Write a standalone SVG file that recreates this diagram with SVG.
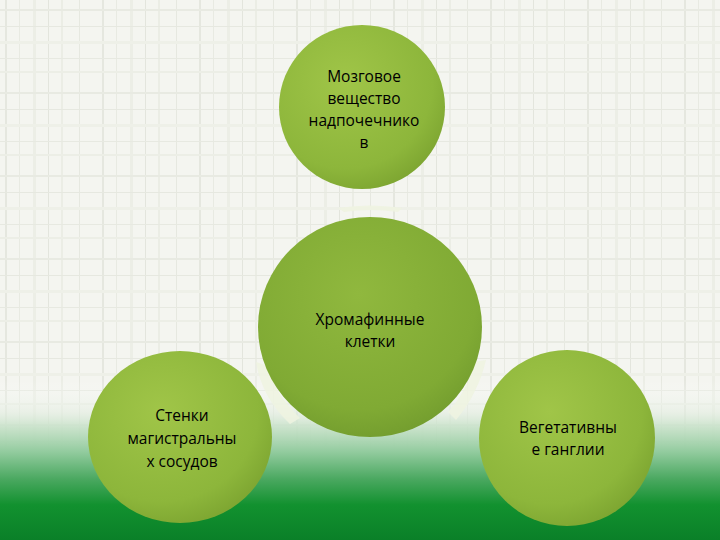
<svg xmlns="http://www.w3.org/2000/svg" width="720" height="540" viewBox="0 0 720 540">
<defs>
<style>
.t{font-family:"Open Sans","Noto Sans","Liberation Sans",sans-serif;font-size:15.5px;fill:#000;text-anchor:middle}
.arc{fill:#eef3e0;opacity:0.85}
</style>
<pattern id="plaid" width="97" height="83" patternUnits="userSpaceOnUse">
<rect width="97" height="83" fill="#f4f5f0"/>
<rect x="5" width="2" height="83" fill="#e5e7df"/>
<rect x="19" width="1" height="83" fill="#e8eae2"/>
<rect x="33" width="3" height="83" fill="#eceee6"/>
<rect x="48" width="1" height="83" fill="#e3e5dd"/>
<rect x="61" width="2" height="83" fill="#ebede5"/>
<rect x="79" width="1" height="83" fill="#e6e8e0"/>
<rect y="9" width="97" height="2" fill="#e8eae2"/>
<rect y="26" width="97" height="1" fill="#e6e8e0"/>
<rect y="41" width="97" height="3" fill="#eef0e8"/>
<rect y="58" width="97" height="1" fill="#e7e9e1"/>
<rect y="71" width="97" height="2" fill="#eceee6"/>
</pattern>
<linearGradient id="bottom" x1="0" y1="380" x2="0" y2="540" gradientUnits="userSpaceOnUse">
<stop offset="0" stop-color="#ffffff" stop-opacity="0"/>
<stop offset="0.2" stop-color="#e2ede0" stop-opacity="0.6"/>
<stop offset="0.3" stop-color="#c4e0c6" stop-opacity="0.9"/>
<stop offset="0.45" stop-color="#92cb9e"/>
<stop offset="0.62" stop-color="#4aa860"/>
<stop offset="0.78" stop-color="#12912f"/>
<stop offset="1" stop-color="#0a8028"/>
</linearGradient>
<radialGradient id="ball" cx="0.4" cy="0.35" r="0.75">
<stop offset="0" stop-color="#a0c548"/>
<stop offset="0.7" stop-color="#8db63b"/>
<stop offset="1" stop-color="#779f2d"/>
</radialGradient>
<radialGradient id="ballC" cx="0.45" cy="0.35" r="0.75">
<stop offset="0" stop-color="#90b83e"/>
<stop offset="0.7" stop-color="#80aa34"/>
<stop offset="1" stop-color="#6c962b"/>
</radialGradient>
</defs>
<rect width="720" height="540" fill="url(#plaid)"/>
<rect y="380" width="720" height="160" fill="url(#bottom)"/>
<g id="connectors">
<path class="arc" d="M338 208 Q370 203 402 208 L398 212 Q370 208 344 212 Z"/>
<path class="arc" d="M256 362 Q262 398 290 424 L300 418 Q275 395 268 366 Z"/>
<path class="arc" d="M486 360 Q478 394 456 420 L448 412 Q468 390 474 362 Z"/>
</g>
<g id="node-top">
<ellipse cx="362" cy="107" rx="83" ry="82" fill="url(#ball)"/>
<text class="t" x="364" y="82">Мозговое</text>
<text class="t" x="364" y="104">вещество</text>
<text class="t" x="364" y="126">надпочечнико</text>
<text class="t" x="364" y="148">в</text>
</g>
<g id="node-center">
<ellipse cx="370" cy="327" rx="112" ry="110" fill="url(#ballC)"/>
<text class="t" x="370" y="325">Хромафинные</text>
<text class="t" x="370" y="347">клетки</text>
</g>
<g id="node-left">
<ellipse cx="180" cy="437" rx="92" ry="86" fill="url(#ball)"/>
<text class="t" x="182" y="421">Стенки</text>
<text class="t" x="182" y="444">магистральны</text>
<text class="t" x="182" y="467">х сосудов</text>
</g>
<g id="node-right">
<ellipse cx="567" cy="438" rx="88" ry="88" fill="url(#ball)"/>
<text class="t" x="568" y="433">Вегетативны</text>
<text class="t" x="568" y="455">е ганглии</text>
</g>
</svg>
